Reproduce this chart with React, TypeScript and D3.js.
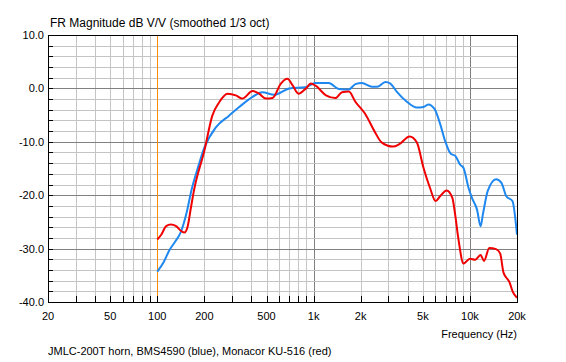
import { useEffect, useRef } from 'react';
import * as d3 from 'd3';

// BMS4590 on JMLC-200T horn (blue)
const blueFreq = [100, 110, 119, 130, 142, 154, 166, 183, 200, 237, 288, 334, 407, 470, 560, 700, 885, 1030, 1250, 1450, 1680, 1850, 2040, 2360, 2550, 2880, 3100, 3400, 3950, 4570, 5040, 5420, 5920, 6440, 6930, 7570, 8040, 8660, 9100, 9790, 10300, 11100, 11700, 12100, 13000, 14700, 15900, 17100, 18700, 20000];
const blueDb = [-34.3, -32.5, -30.4, -28.7, -26.8, -23.3, -18.9, -14.6, -11.1, -7.3, -5.1, -3.5, -1.6, -0.7, -1.2, 0, 0.2, 1, 1, -0.1, -0.2, 0.8, 1, 0.3, 0.3, 1.2, 0.9, -0.6, -2.5, -3.6, -3.5, -3.0, -3.8, -6.6, -9.8, -12.3, -12.6, -14.3, -14.9, -18.6, -20.5, -22.7, -25.8, -23.6, -19.2, -17.0, -17.7, -20.2, -21.1, -27.4];

// Monacor KU-516 (red)
const redFreq = [100, 106, 114, 122, 132, 142, 149, 156, 164, 172, 200, 225, 249, 281, 318, 350, 407, 448, 495, 546, 617, 680, 733, 800, 893, 960, 1030, 1200, 1380, 1520, 1680, 1850, 2130, 2470, 2720, 3220, 3550, 4110, 4570, 5040, 5550, 6030, 6440, 7100, 7720, 8040, 8430, 9100, 10000, 10800, 11700, 12300, 13300, 14700, 15600, 16400, 17900, 18800, 20000];
const redDb = [-28.3, -27.4, -25.8, -25.5, -25.8, -26.7, -27.0, -26.0, -22.4, -19.0, -11.7, -5.1, -2.6, -1.0, -1.3, -1.9, -0.5, -1.0, -1.9, -1.8, 0.9, 1.8, 0.6, -1.0, 0, 0.9, 0.5, -1.3, -1.8, -0.7, -0.6, -2.5, -4.7, -8.2, -10.1, -10.9, -10.4, -9.0, -10.1, -14.8, -18.6, -21.1, -20.2, -19.1, -20.5, -23.6, -28.1, -32.8, -31.9, -32.1, -31.2, -32.3, -29.9, -30.1, -30.9, -34.5, -36.3, -38.1, -39.2];

const xTickValues = [20, 50, 100, 200, 500, 1000, 2000, 5000, 10000, 20000];
const xTickLabels = ['20', '50', '100', '200', '500', '1k', '2k', '5k', '10k', '20k'];
const yTickValues = [10, 0, -10, -20, -30, -40];
const yTickLabels = ['10.0', '0.0', '-10.0', '-20.0', '-30.0', '-40.0'];
const markerFreq = 100;

const title = 'FR Magnitude dB V/V (smoothed 1/3 oct)';
const xTitle = 'Frequency (Hz)';
const footer = 'JMLC-200T horn, BMS4590 (blue), Monacor KU-516 (red)';

const W = 566;
const H = 362;
const FONT = '"Liberation Sans", Arial, sans-serif';

export default function App() {
  const svgRef = useRef<SVGSVGElement>(null);

  useEffect(() => {
    if (!svgRef.current) return;
    const svg = d3.select(svgRef.current);
    svg.selectAll('*').remove();

    const left = 48, right = 517, top = 35, bottom = 302;
    const x = d3.scaleLog().domain([20, 20000]).range([left, right]);
    const y = d3.scaleLinear().domain([-40, 10]).range([bottom, top]);

    svg.append('rect').attr('width', W).attr('height', H).attr('fill', '#fff');

    // vertical grid: every 1-9 step per decade
    const minorX: number[] = [];
    for (const dec of [10, 100, 1000, 10000]) {
      for (let k = 1; k <= 9; k++) {
        const f = dec * k;
        if (f > 20 && f < 20000) minorX.push(f);
      }
    }
    svg.selectAll('.vgrid')
      .data(minorX)
      .enter()
      .append('line')
      .attr('x1', (d) => Math.round(x(d)) + 0.5)
      .attr('x2', (d) => Math.round(x(d)) + 0.5)
      .attr('y1', top)
      .attr('y2', bottom)
      .attr('stroke', (d) => (d === 1000 || d === 10000 ? '#808080' : '#c4c4c4'))
      .attr('stroke-width', 1);

    // horizontal grid every 2 dB
    const gridY = d3.range(-38, 10, 2);
    svg.selectAll('.hgrid')
      .data(gridY)
      .enter()
      .append('line')
      .attr('x1', left)
      .attr('x2', right)
      .attr('y1', (d) => Math.round(y(d)) + 0.5)
      .attr('y2', (d) => Math.round(y(d)) + 0.5)
      .attr('stroke', (d) => (d % 10 === 0 ? '#808080' : '#c4c4c4'))
      .attr('stroke-width', 1);

    // orange marker at 100 Hz
    svg.append('line')
      .attr('x1', Math.round(x(markerFreq)) + 0.5)
      .attr('x2', Math.round(x(markerFreq)) + 0.5)
      .attr('y1', top)
      .attr('y2', bottom)
      .attr('stroke', '#ff8c00')
      .attr('stroke-width', 1);

    // tick marks pointing into the plot
    svg.selectAll('.ytick')
      .data(gridY)
      .enter()
      .append('line')
      .attr('x1', left)
      .attr('x2', left + 5)
      .attr('y1', (d) => Math.round(y(d)) + 0.5)
      .attr('y2', (d) => Math.round(y(d)) + 0.5)
      .attr('stroke', '#000');
    svg.selectAll('.xtick')
      .data(minorX)
      .enter()
      .append('line')
      .attr('x1', (d) => Math.round(x(d)) + 0.5)
      .attr('x2', (d) => Math.round(x(d)) + 0.5)
      .attr('y1', bottom)
      .attr('y2', bottom - 6)
      .attr('stroke', '#000');

    // curves
    const line = d3
      .line<[number, number]>()
      .x((d) => x(d[0]))
      .y((d) => y(d[1]))
      .curve(d3.curveMonotoneX);

    const blue = blueFreq.map((f, i) => [f, blueDb[i]] as [number, number]);
    const red = redFreq.map((f, i) => [f, redDb[i]] as [number, number]);

    svg.append('path')
      .datum(blue)
      .attr('fill', 'none')
      .attr('stroke', '#1e88f0')
      .attr('stroke-width', 2)
      .attr('d', line);
    svg.append('path')
      .datum(red)
      .attr('fill', 'none')
      .attr('stroke', '#f00000')
      .attr('stroke-width', 2)
      .attr('d', line);

    // frame
    svg.append('rect')
      .attr('x', left + 0.5)
      .attr('y', top + 0.5)
      .attr('width', right - left)
      .attr('height', bottom - top)
      .attr('fill', 'none')
      .attr('stroke', '#000');

    // labels
    svg.selectAll('.ylab')
      .data(yTickValues)
      .enter()
      .append('text')
      .attr('x', left - 4)
      .attr('y', (d) => y(d) + 4)
      .attr('text-anchor', 'end')
      .attr('font-family', FONT)
      .attr('font-size', 11)
      .attr('fill', '#000')
      .text((d, i) => yTickLabels[i]);

    svg.selectAll('.xlab')
      .data(xTickValues)
      .enter()
      .append('text')
      .attr('x', (d) => x(d))
      .attr('y', 320)
      .attr('text-anchor', 'middle')
      .attr('font-family', FONT)
      .attr('font-size', 11)
      .attr('fill', '#000')
      .text((d, i) => xTickLabels[i]);

    svg.append('text')
      .attr('x', 50)
      .attr('y', 27)
      .attr('font-family', FONT)
      .attr('font-size', 12)
      .attr('fill', '#000')
      .text(title);

    svg.append('text')
      .attr('x', right)
      .attr('y', 338)
      .attr('text-anchor', 'end')
      .attr('font-family', FONT)
      .attr('font-size', 11)
      .attr('fill', '#000')
      .text(xTitle);

    svg.append('text')
      .attr('x', 48)
      .attr('y', 355)
      .attr('font-family', FONT)
      .attr('font-size', 11)
      .attr('fill', '#000')
      .text(footer);
  }, []);

  return (
    <div style={{ position: 'absolute', left: 0, top: 0 }}>
      <svg ref={svgRef} width={W} height={H} style={{ display: 'block' }} />
    </div>
  );
}
